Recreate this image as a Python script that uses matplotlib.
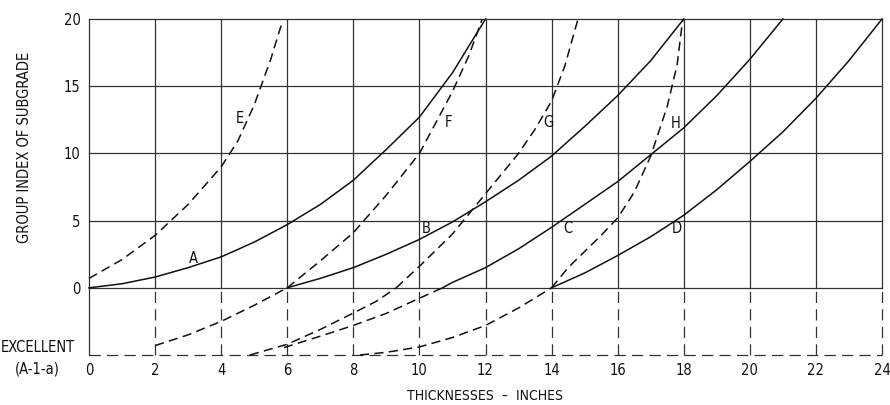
import matplotlib
matplotlib.use('Agg')
import matplotlib.pyplot as plt
from matplotlib import font_manager

# group index design chart - curves
X_TICKS = list(range(0, 25, 2))
Y_TICKS = [0, 5, 10, 15, 20]
EXCELLENT = -5

# solid curves
A_x = [0, 1, 2, 3, 4, 5, 6, 7, 8, 9, 10, 11, 12]
A_y = [0, 0.3, 0.8, 1.5, 2.3, 3.4, 4.7, 6.2, 8.0, 10.3, 12.7, 16.0, 20]
B_x = [6, 7, 8, 9, 10, 11, 12, 13, 14, 15, 16, 17, 18]
B_y = [0, 0.7, 1.5, 2.5, 3.6, 4.9, 6.4, 8.0, 9.8, 12.0, 14.3, 16.9, 20]
C_x = [10.7, 11, 12, 13, 14, 15, 16, 17, 18, 19, 20, 21]
C_y = [0, 0.4, 1.5, 2.9, 4.5, 6.2, 7.9, 9.9, 11.9, 14.3, 17.0, 20]
D_x = [14, 15, 16, 17, 18, 19, 20, 21, 22, 23, 24]
D_y = [0, 1.1, 2.4, 3.8, 5.4, 7.3, 9.4, 11.6, 14.1, 16.9, 20]

# dashed curves
E_x = [0, 1, 2, 3, 4, 4.5, 5, 5.5, 5.85]
E_y = [0.7, 2.1, 3.9, 6.2, 9.0, 10.9, 13.6, 17.0, 19.8]
F_x = [6, 7, 8, 9, 10, 11, 11.5, 11.9]
F_y = [0, 2.0, 4.1, 6.9, 10.0, 14.6, 17.3, 20]
G_x = [9.3, 10, 11, 12, 13, 13.5, 14, 14.4, 14.8]
G_y = [0, 1.6, 4.0, 7.0, 10.0, 11.8, 13.9, 16.5, 20]
H_x = [14, 14.5, 15, 15.5, 16, 16.5, 17, 17.5, 17.8, 17.97]
H_y = [0, 1.5, 2.7, 3.9, 5.2, 7.1, 9.8, 13.5, 16.6, 20]

# dashed curves below group index 0
L1_x = [2, 3, 4, 5, 6]
L1_y = [-4.3, -3.5, -2.5, -1.3, 0]
L2_x = [4.87, 6, 7, 7.9, 8.7, 9.3]
L2_y = [-5, -4.2, -3.1, -2.0, -1.0, 0]
L3_x = [5.9, 7, 8, 9, 9.8, 10.7]
L3_y = [-4.45, -3.6, -2.8, -1.9, -1.0, 0]
L4_x = [8.2, 9, 10, 11, 12, 13, 14]
L4_y = [-5, -4.8, -4.4, -3.7, -2.8, -1.5, 0]

LABELS = ['A', 'B', 'C', 'D', 'E', 'F', 'G', 'H']
LABEL_X = [3.15, 10.22, 14.5, 17.8, 4.57, 10.87, 13.9, 17.74]
LABEL_Y = [2.2, 4.4, 4.4, 4.4, 12.6, 12.3, 12.3, 12.2]

# narrow face if the system has one, else plain DejaVu a bit smaller
fonts = font_manager.fontManager.ttflist
narrow = [f for f in fonts if f.name == 'Liberation Sans Narrow']
cond = [f for f in fonts if f.name == 'DejaVu Sans' and 'condensed' in str(f.stretch)]
if narrow:
    plt.rcParams['font.family'] = ['Liberation Sans Narrow', 'DejaVu Sans']
    FS = 11.5
elif cond:
    plt.rcParams['font.family'] = ['DejaVu Sans']
    plt.rcParams['font.stretch'] = 'condensed'
    FS = 10.5
else:
    plt.rcParams['font.family'] = ['DejaVu Sans']
    FS = 9.5

GRID = '#333333'
INK = '#111111'

fig = plt.figure(figsize=(8.9, 4.05), dpi=100)
ax = fig.add_axes([89 / 890, 50 / 405, 793 / 890, 336 / 405])
ax.set_xlim(0, 24)
ax.set_ylim(EXCELLENT, 20)
for s in ax.spines.values():
    s.set_visible(False)

# grid: solid above 0, dashed below
for x in X_TICKS:
    ax.plot([x, x], [0, 20], color=GRID, lw=0.9, clip_on=False)
    if x == 0:
        ax.plot([x, x], [EXCELLENT, 0], color=GRID, lw=0.9, clip_on=False)
    else:
        ax.plot([x, x], [EXCELLENT, 0], color=GRID, lw=0.9,
                dashes=(9, 5), clip_on=False)
for y in Y_TICKS:
    ax.plot([0, 24], [y, y], color=GRID, lw=0.9, clip_on=False)
ax.plot([0, 24], [EXCELLENT, EXCELLENT], color=GRID, lw=0.9,
        dashes=(9, 5), clip_on=False)

for cx, cy in [(A_x, A_y), (B_x, B_y), (C_x, C_y), (D_x, D_y)]:
    ax.plot(cx, cy, color=INK, lw=1.1, clip_on=False)
for cx, cy in [(E_x, E_y), (F_x, F_y), (G_x, G_y), (H_x, H_y),
               (L1_x, L1_y), (L2_x, L2_y), (L3_x, L3_y), (L4_x, L4_y)]:
    ax.plot(cx, cy, color=INK, lw=1.1, dashes=(6, 3.5), clip_on=False)

for t, lx, ly in zip(LABELS, LABEL_X, LABEL_Y):
    ax.text(lx, ly, t, ha='center', va='center', fontsize=FS, color=INK)

ax.set_xticks(X_TICKS)
ax.set_xticklabels([str(v) for v in X_TICKS])
ax.set_yticks(Y_TICKS)
ax.set_yticklabels([str(v) for v in Y_TICKS])
ax.tick_params(axis='both', length=0, labelsize=FS, colors=INK)
ax.tick_params(axis='x', pad=6)
ax.tick_params(axis='y', pad=6)

ax.text(-0.065, EXCELLENT - 0.26, 'EXCELLENT\n(A-1-a)', transform=ax.get_yaxis_transform(),
        ha='center', va='center', multialignment='center', fontsize=FS,
        color=INK, linespacing=1.55)

fig.text(25 / 890, 1 - 147 / 405, 'GROUP INDEX OF SUBGRADE', rotation=90,
         ha='center', va='center', fontsize=FS, color=INK)
fig.text(485 / 890, 1 - 396 / 405, 'THICKNESSES  –  INCHES',
         ha='center', va='center', fontsize=FS - 0.5, color=INK)

fig.savefig('out.png', dpi=100)
